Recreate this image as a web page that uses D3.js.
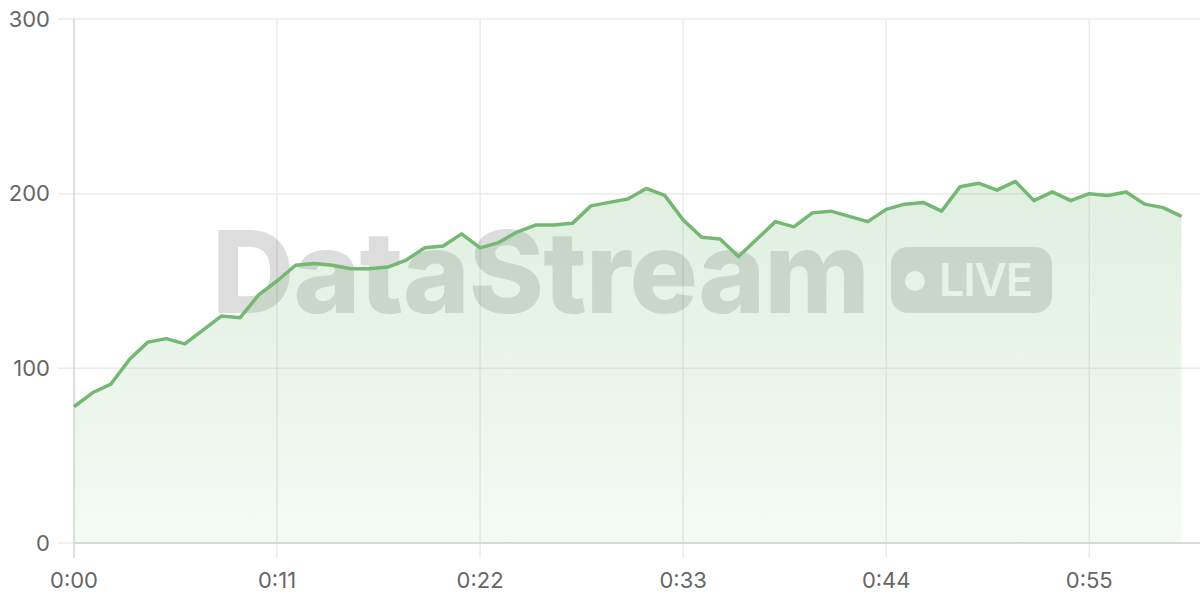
<!DOCTYPE html>
<html>
<head>
<meta charset="utf-8">
<script src="https://cdn.jsdelivr.net/npm/d3@7"></script>
<style>
  html, body { margin: 0; padding: 0; background: #fff; }
  .tick-label { font-family: Inter, "Open Sans", sans-serif; font-size: 22px; fill: #666; }
</style>
</head>
<body>
<div class="view"></div>
<script>
// data: one value per second, 0:00 .. 1:00
const seconds = d3.range(0, 61)
const values = [
  78, 86, 91, 105, 115, 117, 114, 122, 130, 129,
  142, 150, 159, 160, 159, 157, 157, 158, 162, 169,
  170, 177, 169, 172, 178, 182, 182, 183, 193, 195,
  197, 203, 199, 185, 175, 174, 164, 174, 184, 181,
  189, 190, 187, 184, 191, 194, 195, 190, 204, 206,
  202, 207, 196, 201, 196, 200, 199, 201, 194, 192,
  187
]
const xTicks = [0, 11, 22, 33, 44, 55]
const yTicks = [0, 100, 200, 300]

const w = 1200
const h = 600
const padLeft = 74, padRight = 1200, padTop = 19, padBottom = 543

const dataset = seconds.map((s, i) => ({ t: s, v: values[i] }))

function fmtTime(s) {
  let m = Math.floor(s / 60)
  let sec = s % 60
  return m + ':' + (sec < 10 ? '0' + sec : sec)
}

const svg = d3.select('.view')
  .append('svg')
  .attr('width', w)
  .attr('height', h)

const xScale = d3.scaleLinear().domain([0, 61]).range([padLeft, padRight])
const yScale = d3.scaleLinear().domain([0, 300]).range([padBottom, padTop])

// gradient for the area
const grad = svg.append('defs').append('linearGradient')
  .attr('id', 'areaGrad')
  .attr('gradientUnits', 'userSpaceOnUse')
  .attr('x1', 0).attr('x2', 0)
  .attr('y1', yScale(300)).attr('y2', yScale(0))
grad.append('stop').attr('offset', '0%').attr('stop-color', '#6cb66f').attr('stop-opacity', 0.28)
grad.append('stop').attr('offset', '100%').attr('stop-color', '#6cb66f').attr('stop-opacity', 0.07)

// grid
svg.append('g').selectAll('line')
  .data(yTicks)
  .enter()
  .append('line')
  .attr('x1', padLeft - 16)
  .attr('x2', padRight)
  .attr('y1', d => yScale(d))
  .attr('y2', d => yScale(d))
  .attr('stroke', '#ebebeb')
  .attr('stroke-width', 1.5)

svg.append('g').selectAll('line')
  .data(xTicks)
  .enter()
  .append('line')
  .attr('x1', d => xScale(d))
  .attr('x2', d => xScale(d))
  .attr('y1', padTop)
  .attr('y2', padBottom + 15)
  .attr('stroke', d => d === 0 ? '#d4d4d4' : '#ebebeb')
  .attr('stroke-width', 1.5)

// axis baseline
svg.append('line')
  .attr('x1', padLeft).attr('x2', padRight)
  .attr('y1', yScale(0)).attr('y2', yScale(0))
  .attr('stroke', '#d4d4d4')
  .attr('stroke-width', 1.5)

// watermark (behind the area)
const wm = svg.append('g').attr('opacity', 0.13)
wm.append('text')
  .attr('x', 212)
  .attr('y', 313)
  .attr('font-family', 'Inter, "Liberation Sans", Arial, sans-serif')
  .attr('font-weight', 800)
  .attr('font-size', 114)
  .attr('textLength', 658)
  .attr('lengthAdjust', 'spacing')
  .attr('fill', '#000')
  .text('DataStream')
wm.append('rect')
  .attr('x', 891).attr('y', 247)
  .attr('width', 161).attr('height', 66)
  .attr('rx', 17)
  .attr('fill', '#000')
wm.append('circle')
  .attr('cx', 915).attr('cy', 281)
  .attr('r', 10)
  .attr('fill', '#fff')
wm.append('text')
  .attr('x', 939)
  .attr('y', 296)
  .attr('font-family', 'Inter, "Liberation Sans", Arial, sans-serif')
  .attr('font-weight', 600)
  .attr('font-size', 45)
  .attr('textLength', 94)
  .attr('lengthAdjust', 'spacing')
  .attr('fill', '#fff')
  .text('LIVE')

// area + line
const area = d3.area()
  .x(d => xScale(d.t))
  .y0(yScale(0))
  .y1(d => yScale(d.v))
const line = d3.line()
  .x(d => xScale(d.t))
  .y(d => yScale(d.v))

svg.append('path')
  .datum(dataset)
  .attr('d', area)
  .attr('fill', 'url(#areaGrad)')

svg.append('path')
  .datum(dataset)
  .attr('d', line)
  .attr('fill', 'none')
  .attr('stroke', '#74b874')
  .attr('stroke-width', 3.5)
  .attr('stroke-linejoin', 'round')

// tick labels
svg.append('g').selectAll('text')
  .data(yTicks)
  .enter()
  .append('text')
  .attr('class', 'tick-label')
  .attr('x', padLeft - 24)
  .attr('y', d => yScale(d))
  .attr('dy', '0.35em')
  .attr('text-anchor', 'end')
  .text(d => d)

svg.append('g').selectAll('text')
  .data(xTicks)
  .enter()
  .append('text')
  .attr('class', 'tick-label')
  .attr('x', d => xScale(d))
  .attr('y', 588)
  .attr('text-anchor', 'middle')
  .text(d => fmtTime(d))
</script>
</body>
</html>
